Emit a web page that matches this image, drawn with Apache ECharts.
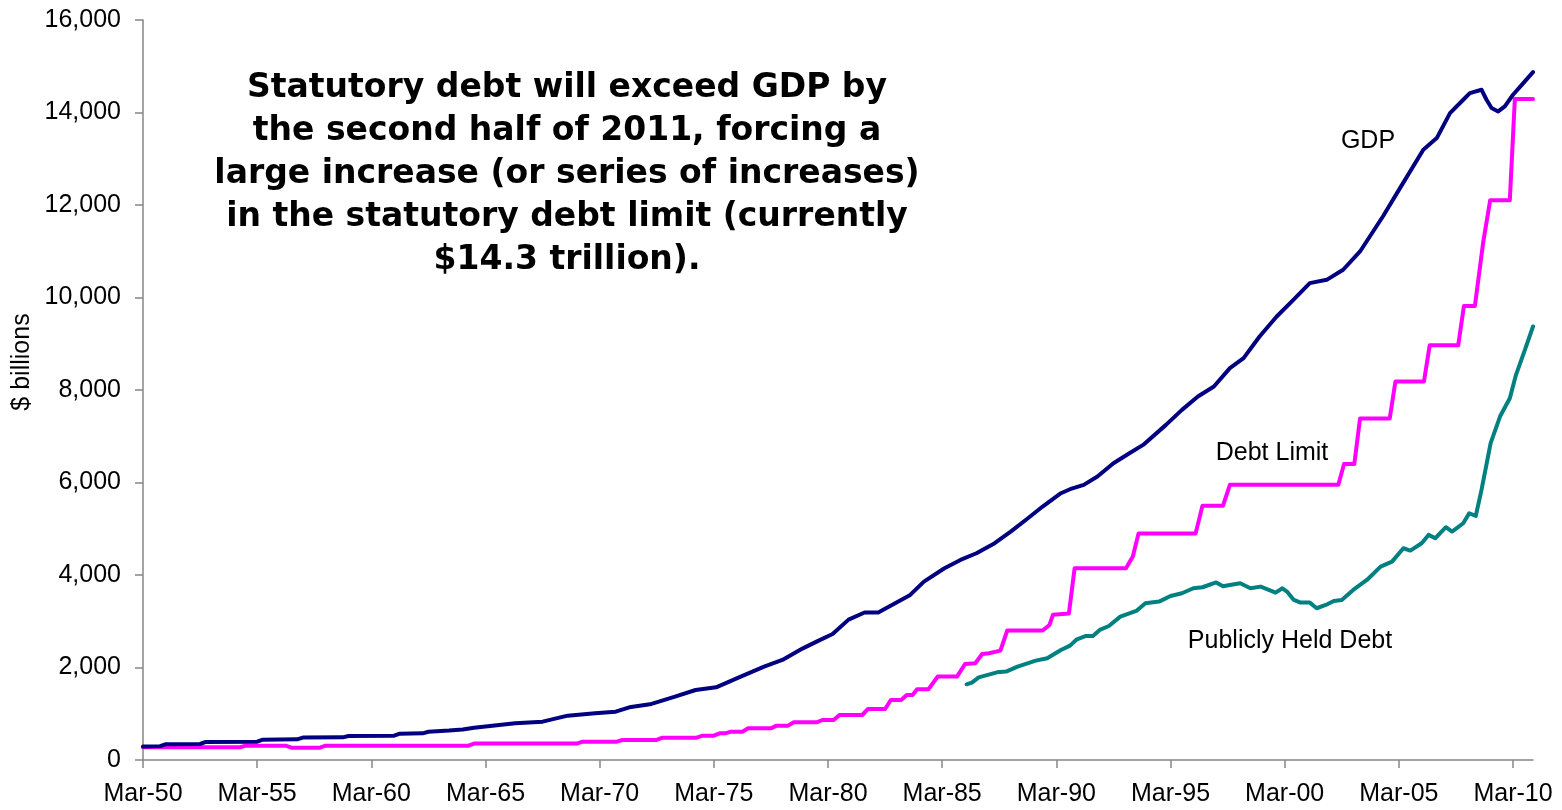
<!DOCTYPE html>
<html>
<head>
<meta charset="utf-8">
<script src="https://cdn.jsdelivr.net/npm/echarts@6/dist/echarts.min.js"></script>
<style>
  html, body { margin: 0; padding: 0; background: #ffffff; }
  #chart { width: 1562px; height: 810px; }
</style>
</head>
<body>
<div id="chart"></div>
<script>
// Time runs in years, 1950.0 = March 1950; values in $ billions.
const xTickValues = [1950, 1955, 1960, 1965, 1970, 1975, 1980, 1985, 1990, 1995, 2000, 2005, 2010];
const xTickLabels = ['Mar-50', 'Mar-55', 'Mar-60', 'Mar-65', 'Mar-70', 'Mar-75', 'Mar-80',
                     'Mar-85', 'Mar-90', 'Mar-95', 'Mar-00', 'Mar-05', 'Mar-10'];
const yTickValues = [0, 2000, 4000, 6000, 8000, 10000, 12000, 14000, 16000];

const gdp = [
  [1950.0, 290], [1950.75, 300], [1951.0, 340], [1952.5, 346], [1952.75, 390], [1955.0, 397],
  [1955.25, 440], [1956.75, 447], [1957.0, 485], [1958.75, 490], [1959.0, 520], [1961.0, 526],
  [1961.25, 570], [1962.25, 577], [1962.5, 610], [1963.4, 636], [1964.0, 660], [1964.5, 699],
  [1965.6, 757], [1966.3, 793], [1967.5, 829], [1968.6, 959], [1969.8, 1009], [1970.7, 1045],
  [1971.3, 1139], [1972.2, 1204], [1973.3, 1370], [1974.2, 1514], [1975.1, 1572], [1976.0, 1766],
  [1977.2, 2019], [1978.0, 2163], [1978.9, 2414], [1979.5, 2560], [1980.2, 2725], [1980.9, 3035],
  [1981.6, 3190], [1982.2, 3190], [1982.9, 3380], [1983.6, 3569], [1984.2, 3857], [1985.1, 4146],
  [1985.8, 4326], [1986.5, 4470], [1987.3, 4687], [1988.0, 4939], [1988.7, 5206], [1989.4, 5480],
  [1990.2, 5768], [1990.6, 5855], [1991.2, 5948], [1991.8, 6128], [1992.5, 6417], [1993.2, 6633],
  [1993.8, 6813], [1994.8, 7246], [1995.5, 7570], [1996.2, 7859], [1996.9, 8075], [1997.6, 8472],
  [1998.2, 8690], [1998.9, 9157], [1999.65, 9589], [2000.38, 9950], [2001.1, 10310], [2001.84, 10382],
  [2002.56, 10600], [2003.3, 10995], [2004.3, 11752], [2005.05, 12365], [2006.07, 13194],
  [2006.66, 13447], [2007.24, 13987], [2007.82, 14276], [2008.11, 14420], [2008.62, 14492],
  [2008.84, 14276], [2009.06, 14096], [2009.35, 14023], [2009.64, 14132], [2010.0, 14384],
  [2010.45, 14636], [2010.875, 14874]
];

const debtLimit = [
  [1950.0, 275], [1954.25, 275], [1954.5, 310], [1956.25, 310], [1956.5, 265], [1957.75, 265],
  [1958.0, 310], [1964.25, 310], [1964.5, 355], [1969.0, 355], [1969.25, 397], [1970.75, 397],
  [1971.0, 433], [1972.5, 433], [1972.75, 483], [1974.25, 483], [1974.5, 526], [1975.0, 526],
  [1975.25, 577], [1975.5, 577], [1975.75, 613], [1976.25, 613], [1976.5, 685], [1977.5, 685],
  [1977.75, 743], [1978.25, 743], [1978.5, 815], [1979.5, 815], [1979.75, 865], [1980.25, 865],
  [1980.5, 973], [1981.5, 973], [1981.75, 1103], [1982.5, 1103], [1982.75, 1298], [1983.2, 1298],
  [1983.45, 1406], [1983.7, 1406], [1983.9, 1529], [1984.4, 1529], [1984.8, 1803], [1985.65, 1803],
  [1986.0, 2076], [1986.45, 2091], [1986.75, 2293], [1987.05, 2307], [1987.55, 2365], [1987.85, 2800],
  [1989.4, 2800], [1989.7, 2920], [1989.85, 3140], [1990.55, 3170], [1990.8, 4145], [1993.05, 4145],
  [1993.35, 4398], [1993.6, 4900], [1996.1, 4900], [1996.4, 5500], [1997.3, 5500], [1997.6, 5950],
  [2002.35, 5950], [2002.6, 6400], [2003.05, 6400], [2003.3, 7384], [2004.6, 7384], [2004.85, 8184],
  [2006.1, 8184], [2006.35, 8965], [2007.6, 8965], [2007.85, 9815], [2008.33, 9815], [2008.7, 11215],
  [2009.0, 12104], [2009.86, 12104], [2010.08, 14294], [2010.875, 14294]
];

const publicDebt = [
  [1986.07, 1637], [1986.3, 1673], [1986.6, 1788], [1987.4, 1896], [1987.8, 1911], [1988.3, 2019],
  [1989.1, 2149], [1989.6, 2199], [1990.2, 2379], [1990.6, 2473], [1990.9, 2610], [1991.3, 2682],
  [1991.6, 2682], [1991.9, 2812], [1992.3, 2898], [1992.8, 3100], [1993.5, 3223], [1993.9, 3389],
  [1994.5, 3425], [1995.0, 3547], [1995.5, 3605], [1996.0, 3713], [1996.4, 3735], [1997.0, 3840],
  [1997.3, 3755], [1997.6, 3785], [1998.05, 3821], [1998.5, 3713], [1998.95, 3749], [1999.6, 3619],
  [1999.9, 3713], [2000.1, 3641], [2000.4, 3461], [2000.7, 3403], [2001.1, 3403], [2001.4, 3281],
  [2001.8, 3353], [2002.15, 3439], [2002.5, 3461], [2003.0, 3677], [2003.6, 3893], [2004.2, 4182],
  [2004.7, 4290], [2005.2, 4578], [2005.5, 4528], [2006.0, 4687], [2006.3, 4867], [2006.6, 4795],
  [2007.06, 5033], [2007.33, 4939], [2007.82, 5119], [2008.08, 5335], [2008.37, 5278], [2008.62, 5840],
  [2009.02, 6850], [2009.43, 7426], [2009.86, 7823], [2010.13, 8328], [2010.52, 8868], [2010.875, 9373]
];

const seriesNames = ['GDP', 'Debt Limit', 'Publicly Held Debt'];
const seriesColors = ['#000080', '#ff00ff', '#008080'];
const yAxisTitle = '$ billions';
const noteLines = [
  'Statutory debt will exceed GDP by',
  'the second half of 2011, forcing a',
  'large increase (or series of increases)',
  'in the statutory debt limit (currently',
  '$14.3 trillion).'
];

const axisFont = '"Liberation Sans", Arial, sans-serif';
const axisGray = '#868686';

const chart = echarts.init(document.getElementById('chart'), null, { renderer: 'canvas' });

function lineSeries(name, data, color) {
  return {
    name: name,
    type: 'line',
    data: data,
    showSymbol: false,
    symbol: 'none',
    smooth: false,
    lineStyle: { width: 4, color: color, cap: 'round', join: 'round' },
    itemStyle: { color: color },
    emphasis: { disabled: true },
    z: 3
  };
}

function seriesLabel(text, x, y) {
  return {
    type: 'text', x: x, y: y, z: 10,
    style: { text: text, font: '25px ' + axisFont, fill: '#000', align: 'center', verticalAlign: 'middle' }
  };
}

const option = {
  animation: false,
  backgroundColor: '#ffffff',
  grid: { left: 143, right: 29, top: 20, bottom: 50, containLabel: false },
  xAxis: {
    type: 'value',
    min: 1950,
    max: 2010.875,
    axisLine: { show: true, lineStyle: { color: axisGray, width: 1.5 } },
    axisTick: { show: true, length: 8, customValues: xTickValues, lineStyle: { color: axisGray, width: 1.5 } },
    axisLabel: {
      customValues: xTickValues,
      formatter: function (v) {
        const i = xTickValues.indexOf(Math.round(v));
        return i >= 0 ? xTickLabels[i] : '';
      },
      color: '#000', fontSize: 25, fontFamily: axisFont, margin: 22
    },
    splitLine: { show: false }
  },
  yAxis: {
    type: 'value',
    min: yTickValues[0],
    max: yTickValues[yTickValues.length - 1],
    interval: yTickValues[1] - yTickValues[0],
    axisLine: { show: true, lineStyle: { color: axisGray, width: 1.5 } },
    axisTick: { show: true, length: 8, lineStyle: { color: axisGray, width: 1.5 } },
    axisLabel: {
      formatter: function (v) { return v.toLocaleString('en-US'); },
      color: '#000', fontSize: 25, fontFamily: axisFont, margin: 22
    },
    splitLine: { show: false }
  },
  series: [
    lineSeries(seriesNames[2], publicDebt, seriesColors[2]),
    lineSeries(seriesNames[1], debtLimit, seriesColors[1]),
    lineSeries(seriesNames[0], gdp, seriesColors[0])
  ],
  graphic: [
    {
      // y-axis title, rotated to read bottom-up
      type: 'text', x: 22, y: 362, rotation: Math.PI / 2, z: 10,
      style: { text: yAxisTitle, font: '25px ' + axisFont, fill: '#000', align: 'center', verticalAlign: 'middle' }
    },
    {
      type: 'text', x: 567, y: 67, z: 10,
      style: {
        text: noteLines.join('\n'),
        font: 'bold 33px "Comic Sans MS", "DejaVu Sans", sans-serif',
        fill: '#000', align: 'center', verticalAlign: 'top', lineHeight: 43
      }
    },
    seriesLabel(seriesNames[0], 1368, 141),
    seriesLabel(seriesNames[1], 1272, 453),
    seriesLabel(seriesNames[2], 1290, 641)
  ]
};

chart.setOption(option);
</script>
</body>
</html>
